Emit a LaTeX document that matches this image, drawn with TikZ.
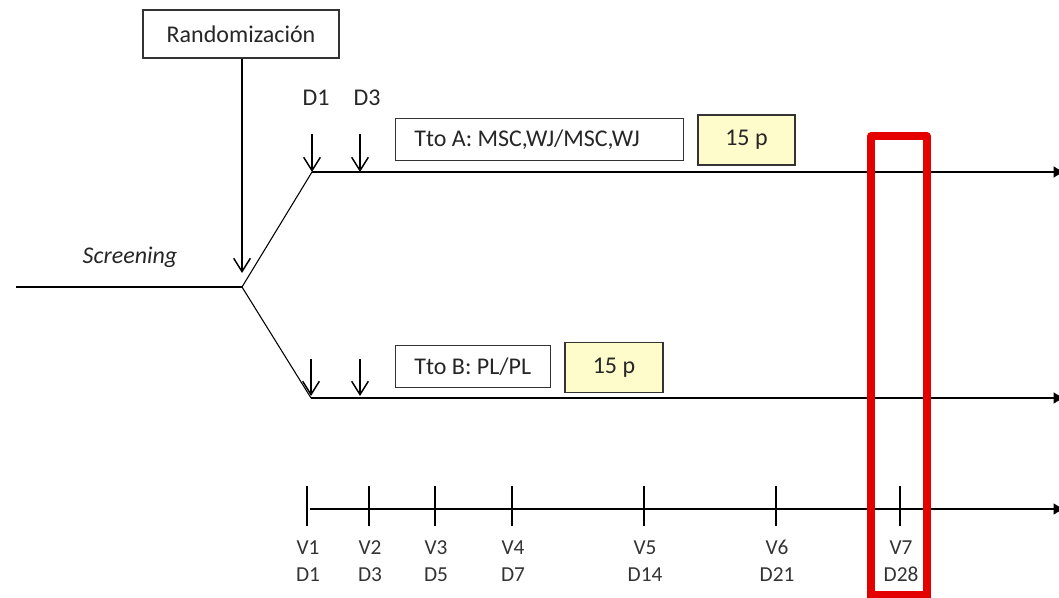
\documentclass[tikz,border=0pt]{standalone}
\usepackage{fontspec}
\setmainfont{Carlito}
\usetikzlibrary{arrows.meta}
\begin{document}
\begin{tikzpicture}[x=0.75pt,y=-0.75pt,
  box/.style={draw=black!80,line width=0.8pt,inner sep=0pt,font=\fontsize{18}{20}\selectfont,text=black!85},
  pbox/.style={box,fill=yellow!20},
  lbl/.style={font=\fontsize{18}{20}\selectfont,text=black!85},
  tl/.style={font=\fontsize{16}{20}\selectfont,text=black!80,align=center},
  ln/.style={line width=0.8pt},
  thick line/.style={line width=1.4pt},
  darr/.style={line width=1.1pt,-{Straight Barb[length=10pt,width=12.5pt,line width=1.1pt]}},
  endarr/.style={thick line,-{Triangle[length=7pt,width=8pt]}},
  tick/.style={line width=0.8pt}]
\useasboundingbox (0,0) rectangle (1059,598);
% Randomization
\node[box,minimum width=147pt,minimum height=36pt] (rand) at (241,34) {Randomización};
\coordinate (split) at (242,287);
\coordinate (scrS) at (16,287);
\coordinate (randTip) at (242,273);
\draw[darr] (rand.south -| randTip) -- (randTip);
\draw[ln] (scrS) -- (split);
\node[lbl,font=\fontsize{18}{20}\selectfont\itshape] (scr) at (130,257) {Screening};
% arms
\coordinate (aS) at (312,172);
\coordinate (aE) at (1063,172);
\coordinate (bS) at (311,398);
\coordinate (bE) at (1063,398);
\draw[ln] (split) -- (aS);
\draw[ln] (split) -- (bS);
\draw[endarr] (aS) -- (aE);
\draw[endarr] (bS) -- (bE);
% day arrows
\node[lbl] (d1) at (316,98) {D1};
\node[lbl] (d3) at (367,98) {D3};
\coordinate (a1t) at (312,134); \coordinate (a1b) at (312,172);
\coordinate (a3t) at (360,134); \coordinate (a3b) at (360,172);
\coordinate (b1t) at (311,359); \coordinate (b1b) at (311,396);
\coordinate (b3t) at (360,359); \coordinate (b3b) at (360,396);
\draw[darr] (a1t) -- (a1b);
\draw[darr] (a3t) -- (a3b);
\draw[darr] (b1t) -- (b1b);
\draw[darr] (b3t) -- (b3b);
% treatment boxes
\node[box,minimum width=216pt,minimum height=31.5pt,anchor=north west] (ttoA) at (395,118) {};
\node[lbl,anchor=west] (ttoAt) at ([xshift=11pt]ttoA.west) {Tto A: MSC,WJ/MSC,WJ};
\node[pbox,minimum width=72.75pt,minimum height=37.5pt] (pA) at (746.5,140) {15 p};
\node[box,minimum width=116pt,minimum height=31.5pt,anchor=north west] (ttoB) at (395,345) {};
\node[lbl,anchor=west] (ttoBt) at ([xshift=11pt]ttoB.west) {Tto B: PL/PL};
\node[pbox,minimum width=73.5pt,minimum height=37.5pt] (pB) at (614,367.5) {15 p};
% timeline
\coordinate (tS) at (310,509);
\coordinate (tE) at (1063,509);
\draw[endarr] (tS) -- (tE);
\foreach \x/\v/\d in {307/V1/D1,369/V2/D3,435/V3/D5,512/V4/D7,644/V5/D14,776/V6/D21,900/V7/D28}{
  \draw[tick] (\x,486) -- (\x,526);
  \node[tl] (lab\v) at (\x+1,561) {\v\\\d};
}
% red highlight
\draw[red!90!black,line width=5.5pt,line join=round] (871,600) -- (871,136) -- (927,136) -- (927,600);
\draw[red!90!black,line width=5.5pt] (871,595) -- (927,595);
\end{tikzpicture}
\end{document}
